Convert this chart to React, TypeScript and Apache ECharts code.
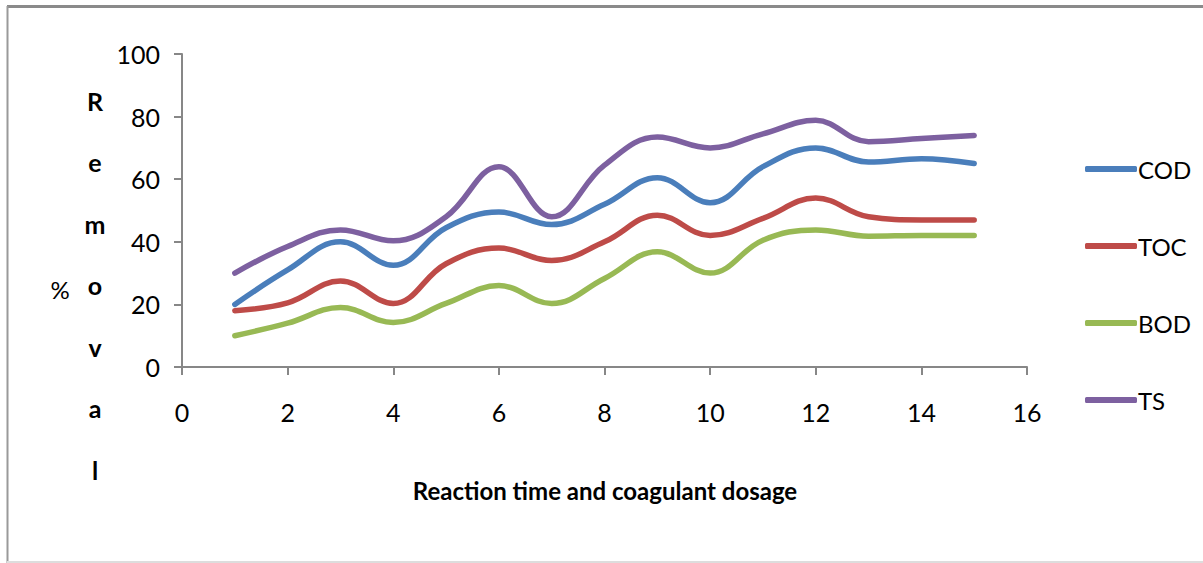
import React, { useEffect, useRef } from "react";
import * as echarts from "echarts";

// Sample points (reaction time / coagulant dosage step) and % removal per parameter
const steps = [1, 2, 3, 4, 5, 6, 7, 8, 9, 10, 11, 12, 13, 14, 15];
const cod = [20, 31, 40, 32.5, 44.5, 49.5, 45.5, 52, 60.5, 52.5, 64, 70, 65.5, 66.5, 65];
const toc = [18, 20.5, 27.5, 20.3, 33, 38, 34, 40, 48.5, 42, 47.5, 54, 48, 47, 47];
const bod = [10, 14, 19, 14.2, 20.3, 26, 20.3, 28.3, 36.8, 30, 40.5, 43.8, 41.8, 42, 42];
const ts = [30, 38.5, 43.8, 40.3, 48, 64, 48, 64.5, 73.5, 70, 74.5, 78.8, 72, 73, 74];

const seriesNames = ["COD", "TOC", "BOD", "TS"];
const seriesValues = [cod, toc, bod, ts];
const seriesColors = ["#4A7EBB", "#BE4B48", "#98B954", "#7D60A0"];

const xTicks = { min: 0, max: 16, interval: 2 };
const yTicks = { min: 0, max: 100, interval: 20 };

const FONT = "Lato, 'Open Sans', sans-serif";

export default function App() {
  const ref = useRef<HTMLDivElement>(null);

  useEffect(() => {
    if (!ref.current) return;
    const chart = echarts.init(ref.current, null, { renderer: "svg" });

    const axisGray = "#878787";

    chart.setOption({
      animation: false,
      backgroundColor: "#ffffff",
      grid: { left: 182, right: 176, top: 54, bottom: 196, containLabel: false },
      xAxis: {
        type: "value",
        min: xTicks.min,
        max: xTicks.max,
        interval: xTicks.interval,
        axisLine: { show: true, lineStyle: { color: axisGray, width: 2 } },
        axisTick: { show: true, length: 8, lineStyle: { color: axisGray, width: 2 } },
        splitLine: { show: false },
        axisLabel: { color: "#000", fontFamily: FONT, fontSize: 25, margin: 32 },
      },
      yAxis: {
        type: "value",
        min: yTicks.min,
        max: yTicks.max,
        interval: yTicks.interval,
        axisLine: { show: true, lineStyle: { color: axisGray, width: 2 } },
        axisTick: { show: true, length: 8, lineStyle: { color: axisGray, width: 2 } },
        splitLine: { show: false },
        axisLabel: { color: "#000", fontFamily: FONT, fontSize: 25, margin: 22 },
      },
      legend: {
        orient: "vertical",
        left: 1080,
        top: 149,
        icon: "roundRect",
        itemWidth: 52,
        itemHeight: 6,
        itemGap: 47,
        data: seriesNames,
        textStyle: { color: "#000", fontFamily: FONT, fontSize: 24, lineHeight: 30, padding: [0, 0, 0, -4] },
      },
      series: seriesNames.map((name, i) => ({
        name,
        type: "line",
        smooth: 0.4,
        showSymbol: false,
        symbol: "none",
        lineStyle: { color: seriesColors[i], width: 5.5, cap: "round" },
        itemStyle: { color: seriesColors[i] },
        data: steps.map((s, j) => [s, seriesValues[i][j]]),
      })),
      graphic: [
        // chart frame
        { type: "line", shape: { x1: 7, y1: 6.5, x2: 1203, y2: 6.5 }, style: { stroke: "#8a8a8a", lineWidth: 3 } },
        { type: "line", shape: { x1: 7.5, y1: 6, x2: 7.5, y2: 563 }, style: { stroke: "#9a9a9a", lineWidth: 2 } },
        { type: "line", shape: { x1: 7, y1: 562, x2: 1203, y2: 562 }, style: { stroke: "#dddddd", lineWidth: 2 } },
        // y-axis title
        {
          type: "text",
          x: 60,
          y: 289,
          style: {
            text: "%",
            fontFamily: FONT,
            fontSize: 24,
            fill: "#000",
            align: "center",
            verticalAlign: "middle",
          },
        },
        {
          type: "text",
          x: 95,
          y: 70,
          style: {
            text: "R\ne\nm\no\nv\na\nl",
            fontFamily: FONT,
            fontSize: 25,
            fontWeight: "bold",
            lineHeight: 61.5,
            fill: "#000",
            align: "center",
            verticalAlign: "top",
          },
        },
        // x-axis title
        {
          type: "text",
          x: 605,
          y: 490,
          style: {
            text: "Reaction time and coagulant dosage",
            fontFamily: FONT,
            fontSize: 24,
            fontWeight: "bold",
            fill: "#000",
            align: "center",
            verticalAlign: "middle",
          },
        },
      ],
    });

    return () => chart.dispose();
  }, []);

  return (
    <div
      ref={ref}
      style={{ position: "fixed", left: 0, top: 0, width: 1203, height: 563 }}
    />
  );
}
